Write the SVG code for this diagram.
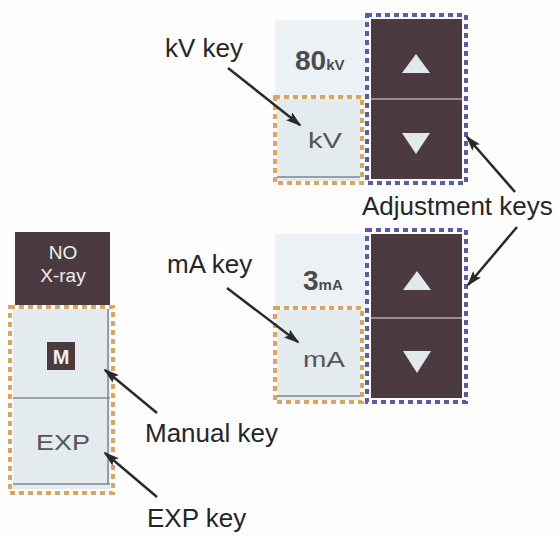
<svg xmlns="http://www.w3.org/2000/svg" width="558" height="536" viewBox="0 0 558 536">
  <defs>
    <marker id="ah" viewBox="0 0 16 10" refX="14" refY="5" markerWidth="16" markerHeight="10" markerUnits="userSpaceOnUse" orient="auto">
      <path d="M0,0 L16,5 L0,10 L3,5 z" fill="#2a2a2a"/>
    </marker>
  </defs>
  <style>
    .lbl{font-family:"Liberation Sans",Arial,sans-serif;font-size:26px;fill:#262626}
    .dark{fill:#4b3b40}
    .panel{fill:#ebf1f4}
    .key{fill:#e3ebef}
    .keyline{stroke:#80868a;stroke-width:1.5;fill:none}
    .blue{fill:none;stroke:#5b5ca3;stroke-width:4;stroke-dasharray:5 4}
    .orange{fill:none;stroke:#d9a65e;stroke-width:4;stroke-dasharray:5 4}
    .tri{fill:#e2e9ec}
    .div{stroke:#b8aaaf;stroke-width:1.5}
    .val{font-family:"Liberation Sans",Arial,sans-serif;font-weight:bold;fill:#4c4c4c}
    .ktxt{font-family:"Liberation Sans",Arial,sans-serif;fill:#555;font-size:22px;text-anchor:middle}
    .wtxt{font-family:"Liberation Sans",Arial,sans-serif;fill:#eef0f2;text-anchor:middle}
    .arr{stroke:#2a2a2a;stroke-width:2.5;fill:none;marker-end:url(#ah)}
  </style>
  <rect width="558" height="536" fill="#fdfdfd"/>

  <g id="kv-display">
    <rect class="panel" x="275" y="20" width="92" height="78"/>
    <text class="val" x="295" y="70" font-size="28">80<tspan font-size="15">kV</tspan></text>
  </g>
  <g id="kv-key">
    <rect class="key" x="277" y="99" width="83" height="82"/>
    <line class="keyline" x1="277" y1="177" x2="360" y2="177"/>
    <rect class="orange" x="275" y="97" width="87" height="86"/>
    <text class="ktxt" x="325" y="148" textLength="34" lengthAdjust="spacingAndGlyphs">kV</text>
  </g>
  <g id="kv-adjust">
    <rect class="dark" x="371" y="19" width="91" height="160"/>
    <line class="div" x1="371" y1="99" x2="462" y2="99"/>
    <polygon class="tri" points="416,54 402,73 430,73"/>
    <polygon class="tri" points="402,133 430,133 416,154"/>
    <rect class="blue" x="367" y="15" width="99" height="168"/>
  </g>

  <g id="ma-display">
    <rect class="panel" x="275" y="234" width="92" height="74"/>
    <text class="val" x="303" y="290" font-size="28">3<tspan font-size="15">mA</tspan></text>
  </g>
  <g id="ma-key">
    <rect class="key" x="277" y="310" width="83" height="90"/>
    <line class="keyline" x1="277" y1="396" x2="360" y2="396"/>
    <rect class="orange" x="275" y="308" width="87" height="94"/>
    <text class="ktxt" x="324" y="367" textLength="42" lengthAdjust="spacingAndGlyphs">mA</text>
  </g>
  <g id="ma-adjust">
    <rect class="dark" x="371" y="234" width="91" height="164"/>
    <line class="div" x1="371" y1="318" x2="462" y2="318"/>
    <polygon class="tri" points="417,271 403,290 431,290"/>
    <polygon class="tri" points="403,351 431,351 417,373"/>
    <rect class="blue" x="367" y="230" width="99" height="172"/>
  </g>

  <g id="no-xray">
    <rect class="dark" x="15" y="232" width="95" height="73"/>
    <text class="wtxt" x="63" y="259" font-size="19">NO</text>
    <text class="wtxt" x="63" y="282" font-size="19">X-ray</text>
  </g>
  <g id="manual-key">
    <rect class="key" x="13" y="309" width="97" height="89"/>
    <line class="keyline" x1="13" y1="398" x2="110" y2="398"/>
    <rect class="dark" x="47" y="342" width="28" height="28"/>
    <text class="wtxt" x="61" y="364" font-size="20" font-weight="bold">M</text>
  </g>
  <g id="exp-key">
    <rect class="key" x="13" y="399" width="97" height="90"/>
    <line class="keyline" x1="13" y1="484" x2="110" y2="484"/>
    <line class="keyline" x1="108" y1="309" x2="108" y2="484"/>
    <text class="ktxt" x="63" y="450" textLength="54" lengthAdjust="spacingAndGlyphs">EXP</text>
  </g>
  <rect class="orange" x="10" y="307" width="103" height="186"/>

  <g id="labels">
    <text class="lbl" x="165" y="57">kV key</text>
    <text class="lbl" x="167" y="273">mA key</text>
    <text class="lbl" x="362" y="215">Adjustment keys</text>
    <text class="lbl" x="145" y="442">Manual key</text>
    <text class="lbl" x="147" y="527">EXP key</text>
  </g>

  <g id="connectors">
    <line class="arr" x1="228" y1="68" x2="300" y2="125"/>
    <line class="arr" x1="227" y1="288" x2="298" y2="342"/>
    <line class="arr" x1="515" y1="192" x2="467" y2="137"/>
    <line class="arr" x1="517" y1="227" x2="468" y2="285"/>
    <line class="arr" x1="157" y1="413" x2="105" y2="370"/>
    <line class="arr" x1="157" y1="497" x2="105" y2="453"/>
  </g>
</svg>
